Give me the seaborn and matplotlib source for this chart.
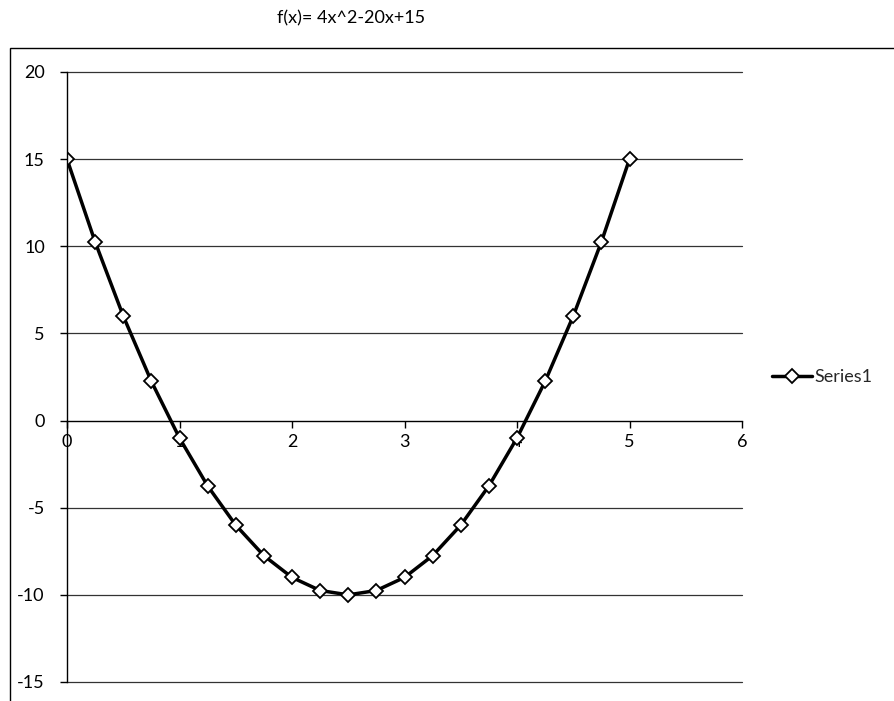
import matplotlib
matplotlib.use("Agg")
import matplotlib.pyplot as plt
import seaborn as sns
import pandas as pd
from matplotlib.patches import Rectangle

# Data
x_values = [0, 0.25, 0.5, 0.75, 1, 1.25, 1.5, 1.75, 2, 2.25, 2.5,
            2.75, 3, 3.25, 3.5, 3.75, 4, 4.25, 4.5, 4.75, 5]
y_values = [15, 10.25, 6, 2.25, -1, -3.75, -6, -7.75, -9, -9.75, -10,
            -9.75, -9, -7.75, -6, -3.75, -1, 2.25, 6, 10.25, 15]
series_name = "Series1"
title_text = "f(x)= 4x^2-20x+15"
x_ticks = [0, 1, 2, 3, 4, 5, 6]
y_ticks = [-15, -10, -5, 0, 5, 10, 15, 20]

df = pd.DataFrame({"x": x_values, "y": y_values, "series": series_name})

sns.set_theme(style="white")
plt.rcParams['font.family'] = ['Lato', 'DejaVu Sans']

fig = plt.figure(figsize=(8.94, 7.01), dpi=100)
ax = fig.add_axes([67/894, 1-682/701, (742-67)/894, (682-72)/701])

# chart-area border
fig.patches.append(Rectangle((10/894, -0.1), 1.2, 1-48/701+0.1,
                             transform=fig.transFigure, fill=False,
                             edgecolor='black', lw=1.0))

sns.lineplot(data=df, x="x", y="y", ax=ax, sort=False, estimator=None,
             color='black', lw=2.5, marker='D', markersize=7,
             markerfacecolor='white', markeredgecolor='black',
             markeredgewidth=1.3, label=series_name, legend=False)

ax.set_xlim(0, 6)
ax.set_ylim(-15, 20)
ax.set_xticks(x_ticks)
ax.set_yticks(y_ticks)
ax.set_xticklabels([str(t) for t in x_ticks])
ax.set_yticklabels([str(t) for t in y_ticks])
ax.set_xlabel("")
ax.set_ylabel("")

for yv in y_ticks:
    if yv != 0:
        ax.axhline(yv, color='#333333', lw=0.9, zorder=0, clip_on=False)

ax.spines['top'].set_visible(False)
ax.spines['right'].set_visible(False)
ax.spines['left'].set_position(('data', 0))
ax.spines['bottom'].set_position(('data', 0))
for s in ('left', 'bottom'):
    ax.spines[s].set_color('black')
    ax.spines[s].set_linewidth(1.0)

ax.tick_params(axis='both', which='major', direction='out', length=5,
               width=1, color='black', labelsize=13, labelcolor='black')
ax.tick_params(axis='y', pad=11, left=True)
ax.tick_params(axis='x', pad=5, bottom=True)

fig.text(351/894, 1-18/701, title_text, ha='center', va='center',
         fontsize=13, color='black')

handles, labels = ax.get_legend_handles_labels()
fig.legend(handles, labels, loc='center left',
           bbox_to_anchor=(772/894, 1-377/701), frameon=False,
           fontsize=13, handlelength=2.2, handletextpad=0.15,
           borderpad=0, borderaxespad=0)

fig.savefig("out.png", dpi=100, facecolor='white')
